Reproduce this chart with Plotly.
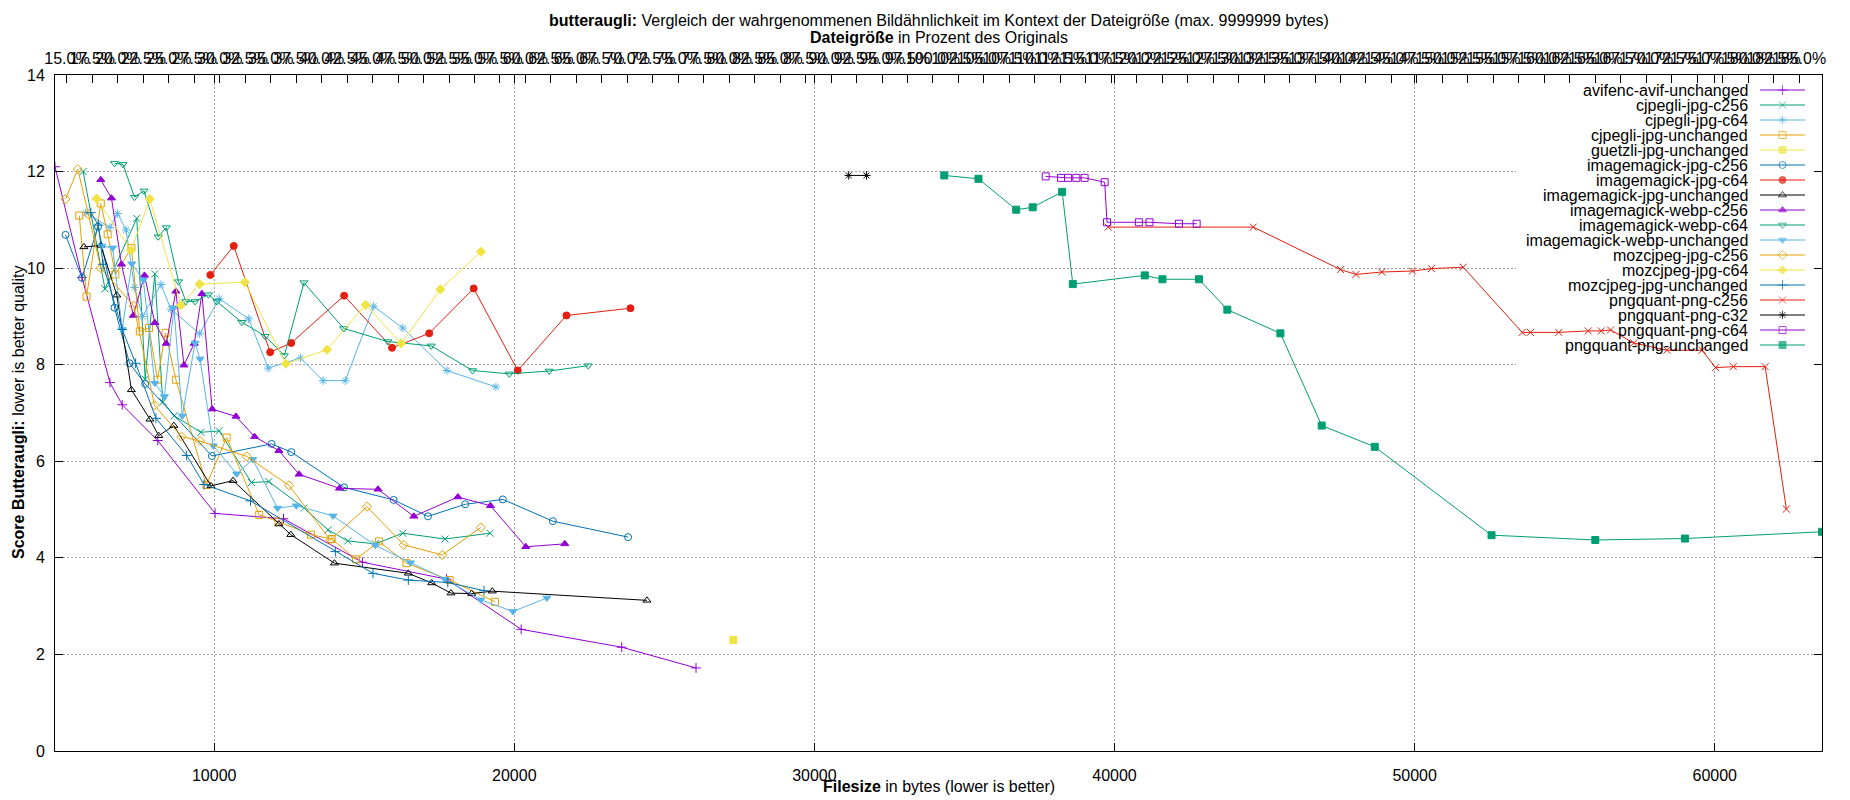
import plotly.graph_objects as go

# butteraugli score over file size, one pair of lists per encoder setting
avifenc_avif_unchanged_size = [4695, 5594, 6526, 6935, 8119, 10030, 12309, 14939, 17740, 20229, 23578, 26055]
avifenc_avif_unchanged_score = [12.10, 9.81, 7.63, 7.17, 6.43, 4.92, 4.81, 3.91, 3.56, 2.52, 2.15, 1.72]

cjpegli_jpg_c256_size = [5632, 6360, 7420, 7701, 8020, 8287, 8670, 9557, 10168, 11239, 11820, 12997, 13792, 14450, 15367, 16284, 17691, 19190]
cjpegli_jpg_c256_score = [12.00, 9.57, 11.03, 7.70, 9.88, 7.23, 6.94, 6.60, 6.63, 5.56, 5.58, 5.03, 4.58, 4.35, 4.29, 4.51, 4.39, 4.51]

cjpegli_jpg_c64_size = [5722, 6526, 6782, 7063, 7344, 7612, 8225, 8557, 9515, 10166, 11149, 11801, 12874, 13627, 14368, 15313, 16284, 17752, 19387]
cjpegli_jpg_c64_score = [11.15, 10.84, 11.13, 10.79, 9.60, 9.00, 9.66, 9.15, 8.64, 9.37, 8.95, 7.93, 8.14, 7.67, 7.67, 9.21, 8.76, 7.88, 7.54]

cjpegli_jpg_unchanged_size = [5504, 5747, 6220, 6450, 6705, 7241, 7522, 7829, 8110, 8378, 8723, 9740, 10413, 11499, 12141, 13226, 13914, 14725, 15489, 16407, 17844, 19358]
cjpegli_jpg_unchanged_score = [11.09, 9.41, 11.34, 10.70, 9.87, 10.42, 8.69, 8.76, 7.69, 8.66, 7.69, 5.51, 6.49, 4.89, 4.75, 4.48, 4.39, 3.97, 4.34, 3.89, 3.54, 3.09]

guetzli_jpg_unchanged_size = [27300]
guetzli_jpg_unchanged_score = [2.30]

imagemagick_jpg_c256_size = [5045, 5594, 6130, 6679, 7178, 7701, 9924, 11911, 12569, 14327, 15979, 17125, 18364, 19618, 21284, 23792]
imagemagick_jpg_c256_score = [10.69, 9.80, 10.86, 9.18, 8.03, 7.60, 6.11, 6.36, 6.19, 5.46, 5.20, 4.86, 5.11, 5.21, 4.76, 4.43]

imagemagick_jpg_c64_size = [9872, 10651, 11865, 12567, 14330, 15926, 17165, 18646, 20115, 21737, 23870]
imagemagick_jpg_c64_score = [9.86, 10.46, 8.26, 8.45, 9.43, 8.35, 8.65, 9.58, 7.88, 9.02, 9.17]

imagemagick_jpg_unchanged_size = [5658, 6220, 6756, 7241, 7859, 8150, 8654, 9893, 10627, 12156, 12554, 14006, 16468, 17248, 17890, 18578, 19266, 24419]
imagemagick_jpg_unchanged_score = [10.44, 10.47, 9.44, 7.48, 6.87, 6.53, 6.74, 5.49, 5.60, 4.70, 4.48, 3.89, 3.68, 3.48, 3.27, 3.26, 3.31, 3.12]

imagemagick_webp_c256_size = [6220, 6577, 6909, 7305, 7676, 8020, 8404, 8723, 8991, 9336, 9591, 9931, 10725, 11346, 12156, 12829, 14174, 15459, 16651, 18119, 19205, 20382, 21682]
imagemagick_webp_c256_score = [11.83, 11.45, 10.08, 9.02, 9.85, 8.87, 8.44, 9.52, 7.99, 8.44, 9.47, 7.08, 6.93, 6.51, 6.22, 5.73, 5.44, 5.42, 4.86, 5.26, 5.08, 4.23, 4.29]

imagemagick_webp_c64_size = [6679, 6960, 7344, 7663, 8135, 8404, 8812, 9055, 9361, 9808, 10089, 10920, 11699, 12337, 12989, 14317, 15785, 17229, 18608, 19834, 21162, 22465]
imagemagick_webp_c64_score = [12.17, 12.15, 11.47, 11.60, 10.65, 10.84, 9.72, 9.31, 9.31, 9.45, 9.31, 8.88, 8.59, 8.19, 9.70, 8.75, 8.48, 8.39, 7.88, 7.81, 7.87, 7.98]

imagemagick_webp_unchanged_size = [6258, 6616, 6935, 7254, 7637, 8020, 8340, 8659, 8936, 9361, 9527, 9969, 10749, 11284, 12110, 12737, 13960, 15367, 16544, 17691, 18884, 19954, 21086]
imagemagick_webp_unchanged_score = [10.46, 10.42, 8.73, 10.09, 9.76, 7.62, 7.34, 9.18, 6.94, 8.45, 8.12, 6.32, 5.74, 6.04, 5.03, 5.08, 4.87, 4.26, 3.90, 3.56, 3.13, 2.89, 3.17]

mozcjpeg_jpg_c256_size = [5045, 5453, 5811, 6220, 7318, 8010, 8914, 9526, 11086, 12492, 13869, 15092, 16315, 17599, 18884]
mozcjpeg_jpg_c256_score = [11.43, 12.05, 11.11, 10.00, 9.22, 7.16, 6.51, 6.42, 6.10, 5.50, 4.37, 5.06, 4.27, 4.06, 4.63]

mozcjpeg_jpg_c64_size = [6079, 7229, 7854, 8889, 9515, 11022, 12388, 13755, 15045, 16233, 17535, 18889]
mozcjpeg_jpg_c64_score = [11.44, 10.37, 11.43, 9.23, 9.67, 9.71, 8.02, 8.31, 9.24, 8.44, 9.56, 10.34]

mozcjpeg_jpg_unchanged_size = [5888, 6143, 6296, 6935, 7382, 8058, 9083, 9664, 11208, 14037, 15291, 16468, 17783, 18991]
mozcjpeg_jpg_unchanged_score = [11.15, 10.89, 10.08, 8.73, 8.03, 6.89, 6.12, 5.52, 5.18, 4.13, 3.68, 3.54, 3.49, 3.32]

pngquant_png_c256_size = [39789, 44623, 47532, 48043, 48908, 49929, 50558, 51619, 53584, 53859, 54802, 55785, 56217, 56530, 57301, 58409, 59576, 60029, 60618, 61680, 62387]
pngquant_png_c256_score = [10.85, 10.85, 9.97, 9.87, 9.92, 9.94, 9.99, 10.02, 8.67, 8.67, 8.67, 8.70, 8.70, 8.72, 8.45, 8.30, 8.30, 7.94, 7.96, 7.96, 5.01]

pngquant_png_c32_size = [31143, 31733]
pngquant_png_c32_score = [11.92, 11.92]

pngquant_png_c64_size = [37706, 38217, 38453, 38728, 39003, 39672, 39750, 40811, 41165, 42147, 42737]
pngquant_png_c64_score = [11.90, 11.87, 11.87, 11.87, 11.87, 11.78, 10.95, 10.95, 10.95, 10.92, 10.92]

pngquant_png_unchanged_size = [34327, 35466, 36724, 37274, 38256, 38610, 41008, 41597, 42816, 43759, 45527, 46903, 48671, 52562, 56020, 59007, 63574]
pngquant_png_unchanged_score = [11.92, 11.85, 11.21, 11.26, 11.58, 9.67, 9.85, 9.77, 9.77, 9.14, 8.65, 6.74, 6.30, 4.47, 4.37, 4.40, 4.54]

series = [
    ("avifenc-avif-unchanged", avifenc_avif_unchanged_size, avifenc_avif_unchanged_score),
    ("cjpegli-jpg-c256", cjpegli_jpg_c256_size, cjpegli_jpg_c256_score),
    ("cjpegli-jpg-c64", cjpegli_jpg_c64_size, cjpegli_jpg_c64_score),
    ("cjpegli-jpg-unchanged", cjpegli_jpg_unchanged_size, cjpegli_jpg_unchanged_score),
    ("guetzli-jpg-unchanged", guetzli_jpg_unchanged_size, guetzli_jpg_unchanged_score),
    ("imagemagick-jpg-c256", imagemagick_jpg_c256_size, imagemagick_jpg_c256_score),
    ("imagemagick-jpg-c64", imagemagick_jpg_c64_size, imagemagick_jpg_c64_score),
    ("imagemagick-jpg-unchanged", imagemagick_jpg_unchanged_size, imagemagick_jpg_unchanged_score),
    ("imagemagick-webp-c256", imagemagick_webp_c256_size, imagemagick_webp_c256_score),
    ("imagemagick-webp-c64", imagemagick_webp_c64_size, imagemagick_webp_c64_score),
    ("imagemagick-webp-unchanged", imagemagick_webp_unchanged_size, imagemagick_webp_unchanged_score),
    ("mozcjpeg-jpg-c256", mozcjpeg_jpg_c256_size, mozcjpeg_jpg_c256_score),
    ("mozcjpeg-jpg-c64", mozcjpeg_jpg_c64_size, mozcjpeg_jpg_c64_score),
    ("mozcjpeg-jpg-unchanged", mozcjpeg_jpg_unchanged_size, mozcjpeg_jpg_unchanged_score),
    ("pngquant-png-c256", pngquant_png_c256_size, pngquant_png_c256_score),
    ("pngquant-png-c32", pngquant_png_c32_size, pngquant_png_c32_score),
    ("pngquant-png-c64", pngquant_png_c64_size, pngquant_png_c64_score),
    ("pngquant-png-unchanged", pngquant_png_unchanged_size, pngquant_png_unchanged_score),
]

ORIGINAL_SIZE = 33950  # bytes, basis of the percent axis on top

# gnuplot default line colours and point types
palette = ['#9400d3', '#009e73', '#56b4e9', '#e69f00', '#f0e442', '#0072b2', '#e51e10', '#000000']
symbols = ['cross-thin-open', 'x-thin-open', 'asterisk-open', 'square-open', 'square',
           'circle-open', 'circle', 'triangle-up-open', 'triangle-up',
           'triangle-down-open', 'triangle-down', 'diamond-open', 'diamond']

FONT = "Liberation Sans, Arial, sans-serif"
PAGE_MARGIN = 8  # default body margin of the html page
W, H = 1850 - PAGE_MARGIN, 800 - PAGE_MARGIN
LEFT, RIGHT, TOP, BOTTOM = 55, 1822, 75, 751  # plot frame in window pixels

xmin = min(min(s[1]) for s in series)
xmax = max(max(s[1]) for s in series)
ymin, ymax = 0, 14


def px_to_x(px):
    return xmin + (px - LEFT) / (RIGHT - LEFT) * (xmax - xmin)


def py_to_y(py):
    return ymin + (BOTTOM - py) / (BOTTOM - TOP) * (ymax - ymin)


def py_to_paper(py):
    return (BOTTOM - py) / (BOTTOM - TOP)


fig = go.Figure()

for i, (name, xs, ys) in enumerate(series):
    color = palette[i % len(palette)]
    fig.add_trace(go.Scatter(
        x=xs, y=ys, name=name,
        mode='lines+markers' if len(xs) > 1 else 'markers',
        line=dict(color=color, width=1),
        marker=dict(symbol=symbols[i % len(symbols)], size=7, color=color,
                    line=dict(color=color, width=1)),
        showlegend=False,
    ))

# invisible trace so that the percent axis is drawn
fig.add_trace(go.Scatter(
    x=[xmin / ORIGINAL_SIZE * 100, xmax / ORIGINAL_SIZE * 100], y=[None, None],
    xaxis='x2', mode='markers', showlegend=False, hoverinfo='skip',
))

# key in gnuplot style: text right aligned, sample to the right (pixel units on x3/y3)
KEY_TEXT_X = 1750
KEY_LINE = (1760, 1805)
KEY_Y0, KEY_DY = 90, 15
annotations = []
for i, (name, xs, ys) in enumerate(series):
    color = palette[i % len(palette)]
    ky = KEY_Y0 + i * KEY_DY
    mid = (KEY_LINE[0] + KEY_LINE[1]) / 2
    fig.add_trace(go.Scatter(
        x=[KEY_LINE[0], mid, KEY_LINE[1]], y=[ky, ky, ky],
        xaxis='x3', yaxis='y3', mode='lines+markers',
        line=dict(color=color, width=1),
        marker=dict(symbol=symbols[i % len(symbols)], size=[0, 7, 0], color=color,
                    line=dict(color=color, width=1)),
        showlegend=False, hoverinfo='skip',
    ))
    annotations.append(dict(
        x=KEY_TEXT_X, y=ky, xref='x3', yref='y3', text=name, showarrow=False,
        xanchor='right', yanchor='middle', font=dict(size=16, color='black', family=FONT),
    ))

annotations += [
    dict(x=0.5, y=py_to_paper(21), xref='paper', yref='paper', showarrow=False,
         text="<b>butteraugli:</b> Vergleich der wahrgenommenen Bildähnlichkeit im Kontext der Dateigröße (max. 9999999 bytes)",
         font=dict(size=16, color='black', family=FONT), yanchor='middle'),
    dict(x=0.5, y=py_to_paper(37), xref='paper', yref='paper', showarrow=False,
         text="<b>Dateigröße</b> in Prozent des Originals",
         font=dict(size=16, color='black', family=FONT), yanchor='middle'),
    dict(x=0.5, y=py_to_paper(786), xref='paper', yref='paper', showarrow=False,
         text="<b>Filesize</b> in bytes (lower is better)",
         font=dict(size=16, color='black', family=FONT), yanchor='middle'),
    dict(x=(18 - LEFT) / (RIGHT - LEFT), y=0.5, xref='paper', yref='paper', showarrow=False,
         text="<b>Score Butteraugli:</b> lower is better quality", textangle=-90,
         font=dict(size=16, color='black', family=FONT), xanchor='center', yanchor='middle'),
]

grid = dict(showgrid=True, gridcolor='#a0a0a0', griddash='2px,2px', gridwidth=1)
frame = dict(showline=True, linecolor='black', linewidth=1, ticks='inside', ticklen=8,
             tickcolor='black', zeroline=False,
             tickfont=dict(size=16, color='black', family=FONT))

fig.update_layout(
    width=W, height=H, autosize=False,
    margin=dict(l=LEFT - PAGE_MARGIN, r=W + PAGE_MARGIN - RIGHT,
                t=TOP - PAGE_MARGIN, b=H + PAGE_MARGIN - BOTTOM),
    paper_bgcolor='white', plot_bgcolor='white',
    font=dict(family=FONT, size=16, color='black'),
    xaxis=dict(range=[xmin, xmax], dtick=10000, tick0=0, tickformat='d', mirror='ticks',
               ticklabelstandoff=10, **grid, **frame),
    xaxis2=dict(range=[xmin / ORIGINAL_SIZE * 100, xmax / ORIGINAL_SIZE * 100],
                overlaying='x', side='top', tick0=0, dtick=2.5, tickformat='.1f',
                ticksuffix='%', tickangle=0, showgrid=False, ticklabelstandoff=4, **frame),
    yaxis=dict(range=[ymin, ymax], dtick=2, tick0=0, mirror='ticks', ticklabelstandoff=6,
               **grid, **frame),
    xaxis3=dict(range=[LEFT, RIGHT], overlaying='x', visible=False),
    yaxis3=dict(range=[BOTTOM, TOP], overlaying='y', visible=False),
    annotations=annotations,
    shapes=[dict(type='rect', xref='x', yref='y', layer='between',
                 x0=px_to_x(1516), x1=xmax, y0=py_to_y(368), y1=ymax,
                 fillcolor='white', line=dict(width=0))],
)

fig.write_html("out.html")
